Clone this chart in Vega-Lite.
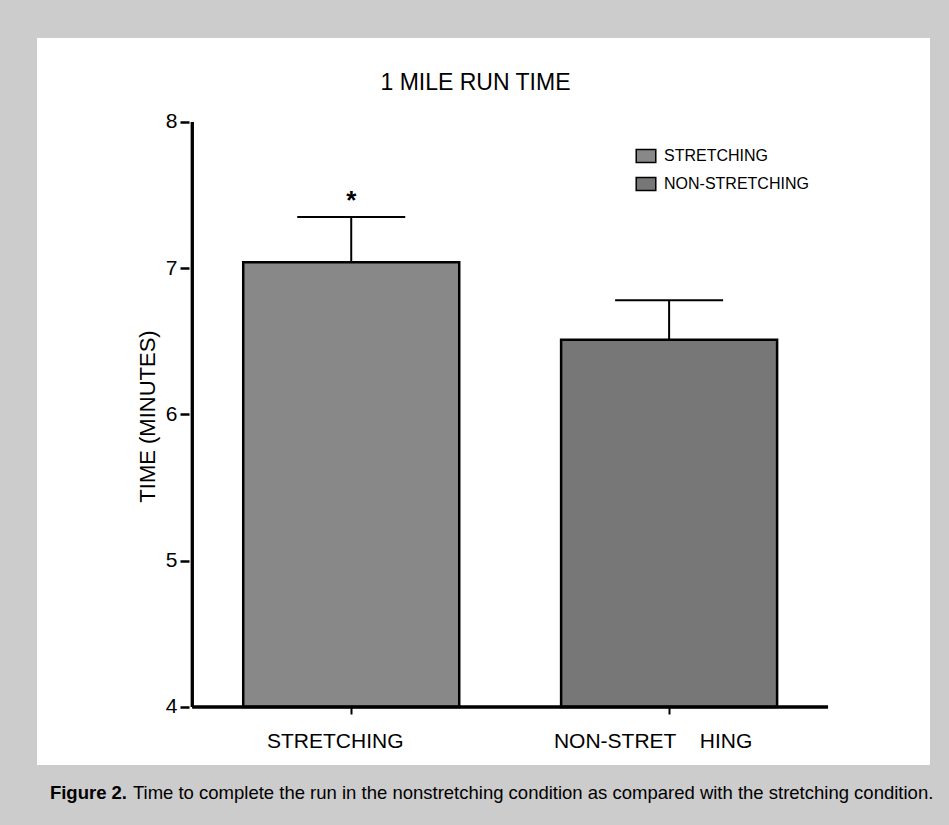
{
  "$schema": "https://vega.github.io/schema/vega-lite/v6.json",
  "width": 893,
  "height": 727,
  "autosize": {"type": "none"},
  "padding": {"left": 37, "top": 38, "right": 19, "bottom": 60},
  "background": "#cccccc",
  "config": {
    "view": {"fill": "white", "stroke": null},
    "font": "Liberation Sans",
    "axis": {"grid": false, "labelColor": "black", "tickColor": "black", "titleColor": "black"}
  },
  "title": {
    "text": "1 MILE RUN TIME",
    "fontSize": 23,
    "fontWeight": "normal",
    "color": "black",
    "offset": -57,
    "dx": -8
  },
  "datasets": {
    "bars": [
      {"group": "STRETCHING", "label": "STRETCHING", "pos": 1, "mean": 7.04, "upper": 7.35, "sig": "*"},
      {"group": "NON-STRETCHING", "label": "NON-STRET\u00a0\u00a0\u00a0\u00a0HING", "pos": 2, "mean": 6.51, "upper": 6.78, "sig": ""}
    ],
    "caption": [
      {"bold": "Figure 2.", "text": "Time to complete the run in the nonstretching condition as compared with the stretching condition."}
    ]
  },
  "layer": [
    {
      "data": {"name": "bars"},
      "mark": {"type": "bar", "width": 216, "stroke": "black", "strokeWidth": 2.5},
      "encoding": {
        "x": {
          "field": "pos",
          "type": "quantitative",
          "scale": {"domain": [0.0272, 2.805], "nice": false, "zero": false},
          "axis": {
            "values": [1, 2],
            "labels": false,
            "domain": false,
            "offset": -58,
            "tickSize": 7,
            "tickWidth": 2,
            "title": null
          }
        },
        "y": {
          "field": "mean",
          "type": "quantitative",
          "scale": {"domain": [3.603, 8.574], "nice": false, "zero": false},
          "axis": {
            "values": [4, 5, 6, 7, 8],
            "format": "d",
            "domain": false,
            "offset": -152,
            "tickSize": 9,
            "tickWidth": 2.5,
            "labelFontSize": 21,
            "labelPadding": 3,
            "title": "TIME (MINUTES)",
            "titleFontSize": 22,
            "titleFontWeight": "normal",
            "titlePadding": 6,
            "titleY": 378
          }
        },
        "y2": {"datum": 4},
        "color": {
          "field": "group",
          "type": "nominal",
          "sort": ["STRETCHING", "NON-STRETCHING"],
          "scale": {"domain": ["STRETCHING", "NON-STRETCHING"], "range": ["#888888", "#777777"]},
          "legend": {
            "title": null,
            "orient": "none",
            "legendX": 601,
            "legendY": 110,
            "symbolType": "M-1.5,-1H1.5V1H-1.5Z",
            "symbolSize": 170,
            "symbolStrokeColor": "black",
            "symbolStrokeWidth": 1.5,
            "symbolOpacity": 1,
            "labelFontSize": 16,
            "labelColor": "black",
            "labelOffset": 10,
            "rowPadding": 8
          }
        }
      }
    },
    {
      "data": {"name": "bars"},
      "mark": {"type": "rule", "strokeWidth": 2, "color": "black"},
      "encoding": {
        "x": {"field": "pos", "type": "quantitative"},
        "y": {"field": "mean", "type": "quantitative"},
        "y2": {"field": "upper"}
      }
    },
    {
      "data": {"name": "bars"},
      "mark": {"type": "tick", "orient": "horizontal", "size": 108, "thickness": 2, "color": "black", "opacity": 1},
      "encoding": {
        "x": {"field": "pos", "type": "quantitative"},
        "y": {"field": "upper", "type": "quantitative"}
      }
    },
    {
      "data": {"name": "bars"},
      "mark": {"type": "text", "fontSize": 26, "fontWeight": "bold", "dy": -16, "color": "black"},
      "encoding": {
        "x": {"field": "pos", "type": "quantitative"},
        "y": {"field": "upper", "type": "quantitative"},
        "text": {"field": "sig"}
      }
    },
    {
      "data": {"name": "bars"},
      "mark": {"type": "text", "fontSize": 21, "baseline": "top", "dy": 24, "dx": -16, "color": "black"},
      "encoding": {
        "x": {"field": "pos", "type": "quantitative"},
        "y": {"datum": 4},
        "text": {"field": "label"}
      }
    },
    {
      "data": {"name": "bars"},
      "mark": {"type": "rule", "strokeWidth": 3, "color": "black"},
      "encoding": {
        "x": {"datum": 0.5},
        "y": {"datum": 4},
        "y2": {"datum": 8}
      }
    },
    {
      "data": {"name": "bars"},
      "mark": {"type": "rule", "strokeWidth": 3, "color": "black"},
      "encoding": {
        "x": {"datum": 0.5},
        "x2": {"datum": 2.5},
        "y": {"datum": 4}
      }
    },
    {
      "data": {"name": "caption"},
      "mark": {"type": "text", "fontSize": 18.5, "fontWeight": "bold", "align": "left", "baseline": "middle", "color": "black"},
      "encoding": {
        "x": {"datum": 0.0521},
        "y": {"datum": 3.412},
        "text": {"field": "bold"}
      }
    },
    {
      "data": {"name": "caption"},
      "mark": {"type": "text", "fontSize": 18.5, "align": "left", "baseline": "middle", "dx": 83, "color": "black"},
      "encoding": {
        "x": {"datum": 0.0521},
        "y": {"datum": 3.412},
        "text": {"field": "text"}
      }
    }
  ]
}
